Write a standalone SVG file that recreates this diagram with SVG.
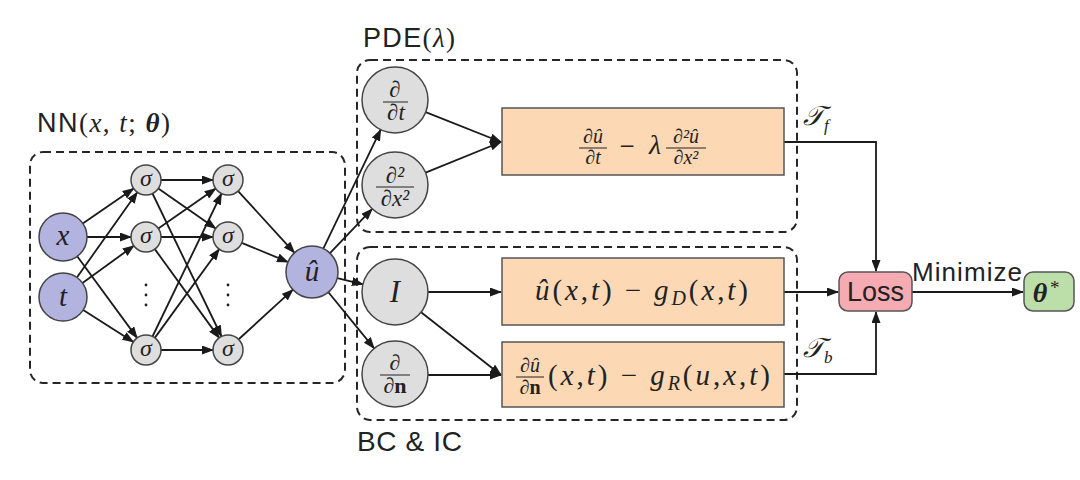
<svg xmlns="http://www.w3.org/2000/svg" width="1080" height="480" viewBox="0 0 1080 480">
<style>
.grp{fill:none;stroke:#262626;stroke-width:2;stroke-dasharray:8 5}
.in{fill:#b3b3df;stroke:#444;stroke-width:1.5}
.op{fill:#dedede;stroke:#444;stroke-width:1.5}
.res{fill:#fdd8b4;stroke:#555;stroke-width:1.5}
.c line,.c path{stroke:#1a1a1a;stroke-width:1.8;fill:none;marker-end:url(#ah)}
.i{font-style:italic}
.s{font-family:'Liberation Sans',sans-serif;fill:#222}
.fl{stroke:#222;stroke-width:1}
</style>
<defs>
<marker id="ah" markerWidth="12" markerHeight="9" refX="11" refY="4.5" orient="auto" markerUnits="userSpaceOnUse">
<path d="M0,0 L12,4.5 L0,9 z" fill="#1a1a1a"/>
</marker>
</defs>
<rect width="1080" height="480" fill="#fff"/>

<!-- group boxes -->
<g id="nn-group">
<rect class="grp" x="30" y="152" width="315" height="231" rx="13"/>
<text class="s" x="37" y="132" font-size="27" textLength="133" lengthAdjust="spacing">NN<tspan font-family="Liberation Serif">(</tspan><tspan font-family="Liberation Serif" class="i">x</tspan><tspan font-family="Liberation Serif">, </tspan><tspan font-family="Liberation Serif" class="i">t</tspan><tspan font-family="Liberation Serif">; </tspan><tspan font-family="Liberation Serif" class="i" font-weight="bold">θ</tspan><tspan font-family="Liberation Serif">)</tspan></text>
</g>
<g id="pde-group">
<rect class="grp" x="357" y="60" width="440" height="172" rx="13"/>
<text class="s" x="363" y="47" font-size="27" textLength="92" lengthAdjust="spacing">PDE<tspan font-family="Liberation Serif">(</tspan><tspan font-family="Liberation Serif" class="i">λ</tspan><tspan font-family="Liberation Serif">)</tspan></text>
</g>
<g id="bc-group">
<rect class="grp" x="357" y="247" width="440" height="173" rx="13"/>
<text class="s" x="357" y="451" font-size="28" textLength="105" lengthAdjust="spacing">BC &amp; IC</text>
</g>

<!-- connectors -->
<g id="connectors" class="c">
<line x1="82.8" y1="223.4" x2="133.6" y2="188.5"/>
<line x1="87" y1="237" x2="131" y2="237"/>
<line x1="77.2" y1="256.3" x2="137.1" y2="337.9"/>
<line x1="76.9" y1="277.4" x2="137.3" y2="192.2"/>
<line x1="82.5" y1="282.9" x2="133.8" y2="245.8"/>
<line x1="83.2" y1="309.9" x2="133.4" y2="341.9"/>
<line x1="161" y1="180" x2="213" y2="180"/>
<line x1="158.3" y1="188.6" x2="215.7" y2="228.4"/>
<line x1="152.5" y1="193.5" x2="221.5" y2="336.5"/>
<line x1="158.3" y1="228.4" x2="215.7" y2="188.6"/>
<line x1="161" y1="237" x2="213" y2="237"/>
<line x1="154.8" y1="249.1" x2="219.2" y2="337.9"/>
<line x1="152.5" y1="336.5" x2="221.5" y2="193.5"/>
<line x1="154.8" y1="337.9" x2="219.2" y2="249.1"/>
<line x1="161" y1="350" x2="213" y2="350"/>
<line x1="238.1" y1="191.1" x2="294.5" y2="252.8"/>
<line x1="241.8" y1="242.8" x2="288" y2="262"/>
<line x1="239" y1="339" x2="292.9" y2="289.7"/>
<line x1="323.3" y1="248.6" x2="380.7" y2="129.7"/>
<line x1="330" y1="253.2" x2="372.2" y2="208.9"/>
<line x1="337.3" y1="278.1" x2="362.9" y2="284.3"/>
<line x1="328.4" y1="292.2" x2="374.2" y2="348.4"/>
<line x1="425.7" y1="112.1" x2="501" y2="142"/>
<line x1="425.6" y1="172.7" x2="501" y2="142"/>
<line x1="428" y1="292" x2="501" y2="292"/>
<line x1="421.1" y1="312.2" x2="501" y2="375"/>
<line x1="428" y1="375" x2="501" y2="375"/>
<path d="M784,142 H876 V271"/>
<line x1="784" y1="292" x2="838" y2="292"/>
<path d="M784,374 H876 V312"/>
<line x1="912" y1="292" x2="1023" y2="292"/>
</g>

<g font-family="Liberation Serif" fill="#222">
<!-- NN nodes -->
<g id="node-x"><circle class="in" cx="63" cy="237" r="24"/><text class="i" x="63" y="245" font-size="29" text-anchor="middle">x</text></g>
<g id="node-t"><circle class="in" cx="63" cy="297" r="24"/><text class="i" x="63" y="306" font-size="29" text-anchor="middle">t</text></g>
<g id="node-s11"><circle class="op" cx="146" cy="180" r="15"/><text class="i" x="146" y="186" font-size="24" text-anchor="middle">σ</text></g>
<g id="node-s12"><circle class="op" cx="146" cy="237" r="15"/><text class="i" x="146" y="243" font-size="24" text-anchor="middle">σ</text></g>
<g id="node-s13"><circle class="op" cx="146" cy="350" r="15"/><text class="i" x="146" y="356" font-size="24" text-anchor="middle">σ</text></g>
<g id="node-s21"><circle class="op" cx="228" cy="180" r="15"/><text class="i" x="228" y="186" font-size="24" text-anchor="middle">σ</text></g>
<g id="node-s22"><circle class="op" cx="228" cy="237" r="15"/><text class="i" x="228" y="243" font-size="24" text-anchor="middle">σ</text></g>
<g id="node-s23"><circle class="op" cx="228" cy="350" r="15"/><text class="i" x="228" y="356" font-size="24" text-anchor="middle">σ</text></g>
<g id="dots" fill="#222">
<circle cx="146" cy="285" r="1.4"/><circle cx="146" cy="295" r="1.4"/><circle cx="146" cy="305" r="1.4"/>
<circle cx="228" cy="285" r="1.4"/><circle cx="228" cy="295" r="1.4"/><circle cx="228" cy="305" r="1.4"/>
</g>
<g id="node-u"><circle class="in" cx="312" cy="272" r="26"/><text class="i" x="312" y="281" font-size="29" text-anchor="middle">û</text></g>

<!-- operator nodes -->
<g id="node-dt"><circle class="op" cx="395" cy="100" r="33"/>
<text class="i" x="395" y="97" font-size="23" text-anchor="middle">∂</text>
<line class="fl" x1="383" y1="102" x2="408" y2="102"/>
<text class="i" x="396" y="120" font-size="23" text-anchor="middle">∂t</text></g>
<g id="node-dxx"><circle class="op" cx="395" cy="185" r="33"/>
<text class="i" x="395" y="183" font-size="23" text-anchor="middle">∂²</text>
<line class="fl" x1="376" y1="187" x2="414" y2="187"/>
<text class="i" x="395" y="206" font-size="23" text-anchor="middle">∂x²</text></g>
<g id="node-I"><circle class="op" cx="395" cy="292" r="33"/><text class="i" x="395" y="302" font-size="31" text-anchor="middle">I</text></g>
<g id="node-dn"><circle class="op" cx="395" cy="374" r="33"/>
<text class="i" x="395" y="370" font-size="22" text-anchor="middle">∂</text>
<line class="fl" x1="380" y1="375" x2="410" y2="375"/>
<text class="i" x="395" y="393" font-size="22" text-anchor="middle">∂<tspan font-style="normal" font-weight="bold">n</tspan></text></g>

<!-- residual boxes -->
<g id="res-pde"><rect class="res" x="502" y="108" width="282" height="67"/>
<text class="i" x="593" y="143" font-size="20" text-anchor="middle">∂û</text>
<line class="fl" x1="579" y1="148" x2="607" y2="148"/>
<text class="i" x="593" y="164" font-size="20" text-anchor="middle">∂t</text>
<text x="627" y="155" font-size="27" text-anchor="middle">−</text>
<text class="i" x="655" y="154" font-size="28" text-anchor="middle">λ</text>
<text class="i" x="686" y="143" font-size="20" text-anchor="middle">∂²û</text>
<line class="fl" x1="666" y1="148" x2="706" y2="148"/>
<text class="i" x="686" y="164" font-size="20" text-anchor="middle">∂x²</text></g>

<g id="res-dirichlet"><rect class="res" x="502" y="258" width="282" height="67"/>
<text x="535" y="300" font-size="29" textLength="213" lengthAdjust="spacing"><tspan class="i">û</tspan>(<tspan class="i">x</tspan>,<tspan class="i">t</tspan>) − <tspan class="i">g</tspan><tspan class="i" font-size="20" dy="5">D</tspan><tspan dy="-5">(</tspan><tspan class="i">x</tspan>,<tspan class="i">t</tspan>)</text></g>

<g id="res-robin"><rect class="res" x="502" y="342" width="282" height="65"/>
<text class="i" x="530" y="372" font-size="20" text-anchor="middle">∂û</text>
<line class="fl" x1="516" y1="377" x2="544" y2="377"/>
<text class="i" x="530" y="394" font-size="20" text-anchor="middle">∂<tspan font-style="normal" font-weight="bold">n</tspan></text>
<text x="548" y="385" font-size="29" textLength="222" lengthAdjust="spacing">(<tspan class="i">x</tspan>,<tspan class="i">t</tspan>) − <tspan class="i">g</tspan><tspan class="i" font-size="20" dy="5">R</tspan><tspan dy="-5">(</tspan><tspan class="i">u</tspan>,<tspan class="i">x</tspan>,<tspan class="i">t</tspan>)</text></g>

<!-- output -->
<g id="node-theta"><rect x="1024" y="272" width="50" height="39" rx="9" fill="#bcdea9" stroke="#555" stroke-width="1.5"/>
<text class="i" x="1040" y="302" font-size="28" font-weight="bold" text-anchor="middle">θ</text><text x="1050" y="294" font-size="19">*</text></g>

<g id="tlabels">
<text class="i" x="803" y="125" font-size="27">𝒯<tspan font-size="17" dy="6">f</tspan></text>
<text class="i" x="803" y="357" font-size="27">𝒯<tspan font-size="17" dy="6">b</tspan></text>
</g>
</g>

<g id="node-loss"><rect x="839" y="272" width="73" height="39" rx="9" fill="#f5abb1" stroke="#555" stroke-width="1.5"/>
<text class="s" x="875.5" y="301" font-size="27" text-anchor="middle">Loss</text></g>
<text class="s" x="912" y="281" font-size="26" textLength="110" lengthAdjust="spacing">Minimize</text>
</svg>
